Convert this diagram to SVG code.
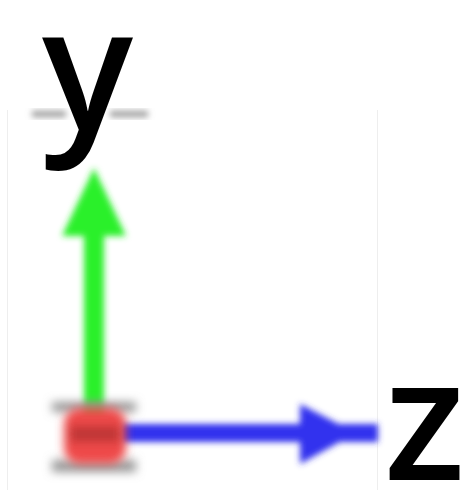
<svg xmlns="http://www.w3.org/2000/svg" width="461" height="498" viewBox="0 0 461 498">
  <defs>
    <filter id="blur" x="-50%" y="-50%" width="200%" height="200%">
      <feGaussianBlur stdDeviation="3"/>
    </filter>
    <filter id="blur2" x="-50%" y="-50%" width="200%" height="200%">
      <feGaussianBlur stdDeviation="5"/>
    </filter>
  </defs>
  <style>
    .lbl { font-family: "Open Sans", "Noto Sans", sans-serif; font-size: 170px; font-weight: 600; fill: #000; }
    .guide { stroke: #eeeeee; stroke-width: 1; }
  </style>
  <rect width="461" height="498" fill="#fff"/>
  <g id="guides">
    <line class="guide" x1="7.5" y1="110" x2="7.5" y2="490"/>
    <line class="guide" x1="377.5" y1="110" x2="377.5" y2="490"/>
    <g filter="url(#blur)" fill="#9a9a9a">
      <rect x="32" y="111" width="34" height="6"/>
      <rect x="110" y="111" width="38" height="6"/>
    </g>
  </g>
  <g id="connectors">
    <g id="axis-y" filter="url(#blur)" fill="#2af02a">
      <rect x="84" y="225" width="20" height="195"/>
      <polygon points="94,168 126,236 62,236"/>
    </g>
    <g id="axis-z" filter="url(#blur)" fill="#3333ee">
      <rect x="120" y="424" width="258" height="18"/>
      <polygon points="300,404 356,433 300,464"/>
    </g>
  </g>
  <g id="origin">
    <g filter="url(#blur2)" fill="#999">
      <rect x="52" y="402" width="84" height="10"/>
      <rect x="52" y="460" width="84" height="12"/>
    </g>
    <g filter="url(#blur2)">
      <rect x="64" y="408" width="62" height="56" rx="16" fill="#ee4a4a"/>
      <rect x="70" y="426" width="50" height="16" fill="#a02828" opacity="0.6"/>
    </g>
  </g>
  <g id="label-y">
    <text class="lbl" x="42" y="130">y</text>
  </g>
  <g id="label-z">
    <text class="lbl" x="384" y="480">z</text>
  </g>
</svg>
